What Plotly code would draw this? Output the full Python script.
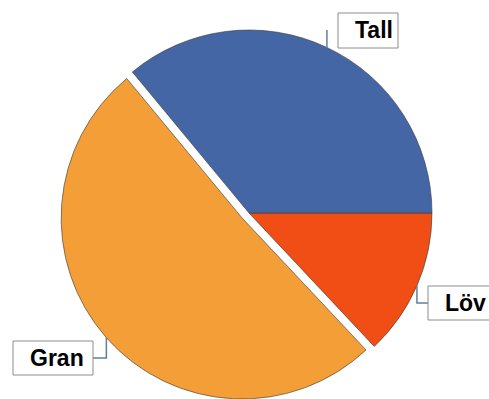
import math
import plotly.graph_objects as go

# ---- data ----
labels = ["Löv", "Gran", "Tall"]
values = [13, 51, 36]
colors = ["#F14E16", "#F39E37", "#4466A4"]
pulled = "Gran"

# ---- layout constants (screen pixels) ----
W, H = 489, 399
CX, CY, R = 249.0, 213.0, 183.0
PULL = 0.05

def fx(px):
    return px / W

def fy(py):
    return (H - py) / H

total = float(sum(values))
mid_angle = {}
start = 0.0
for lab, v in zip(labels, values):
    span = 360.0 * v / total
    mid_angle[lab] = math.radians(-(start + span / 2.0))
    start += span

gm = mid_angle[pulled]
CX2 = CX + PULL * R * math.cos(gm)
CY2 = 218.0
R2 = min(R, H - CY2)

def mask(keep):
    return [c if (lab in keep) else "rgba(0,0,0,0)" for lab, c in zip(labels, colors)]

def widths(keep):
    return [0.6 if lab in keep else 0 for lab in labels]

others = [l for l in labels if l != pulled]

fig = go.Figure()
fig.add_trace(go.Pie(
    labels=labels, values=values, sort=False, direction="clockwise", rotation=90,
    marker=dict(colors=mask(others), line=dict(color="#3a3a3a", width=widths(others))),
    textinfo="none", hoverinfo="label+value", showlegend=False,
    domain=dict(x=[fx(CX - R), fx(CX + R)], y=[fy(CY + R), fy(CY - R)]),
))
fig.add_trace(go.Pie(
    labels=labels, values=values, sort=False, direction="clockwise", rotation=90,
    marker=dict(colors=mask([pulled]), line=dict(color="#3a3a3a", width=widths([pulled]))),
    textinfo="none", hoverinfo="label+value", showlegend=False,
    domain=dict(x=[fx(CX2 - R2), fx(CX2 + R2)],
                y=[max(0.0, fy(CY2 + R2)), min(1.0, fy(CY2 - R2))]),
))

def anchor(lab):
    a = mid_angle[lab]
    if lab == pulled:
        return CX2 + R2 * math.cos(a), CY2 - R2 * math.sin(a)
    return CX + R * math.cos(a), CY - R * math.sin(a)

boxes = {
    "Tall": (338, 398, 13, 48, 353),
    "Löv": (428, 496, 286, 320, 443),
    "Gran": (13, 93, 341, 375, 28),
}

shapes = []
annotations = []
lc = "#5f7f9f"
for lab in labels:
    x0, x1, y0, y1, tx = boxes[lab]
    ax, ay = anchor(lab)
    ym = (y0 + y1) / 2.0
    if lab == "Tall":
        pts = [(ax, ay), (ax, 30)]
    elif lab == "Löv":
        pts = [(ax, ay), (ax, ym), (x0, ym)]
    else:
        pts = [(ax, ay), (ax, ym), (x1, ym)]
    path = "M " + " L ".join(f"{fx(p[0])},{fy(p[1])}" for p in pts)
    shapes.append(dict(type="path", xref="paper", yref="paper", path=path,
                       line=dict(color=lc, width=1.5)))
    shapes.append(dict(type="rect", xref="paper", yref="paper",
                       x0=fx(x0), x1=fx(x1), y0=fy(y1), y1=fy(y0),
                       line=dict(color="#8c8c8c", width=1), fillcolor="white"))
    annotations.append(dict(text=f"<b>{lab}</b>", xref="paper", yref="paper",
                            x=fx(tx), y=fy(ym), xanchor="left", yanchor="middle",
                            showarrow=False,
                            font=dict(family="Liberation Sans, Arial, sans-serif", size=23, color="black")))

fig.update_layout(
    width=W, height=H, margin=dict(l=0, r=0, t=0, b=0),
    paper_bgcolor="white", plot_bgcolor="white",
    shapes=shapes, annotations=annotations, showlegend=False,
)
fig.write_html(
    "out.html",
    config={"displayModeBar": False},
    post_script="document.body.style.margin='0';document.body.style.overflow='hidden';",
)
